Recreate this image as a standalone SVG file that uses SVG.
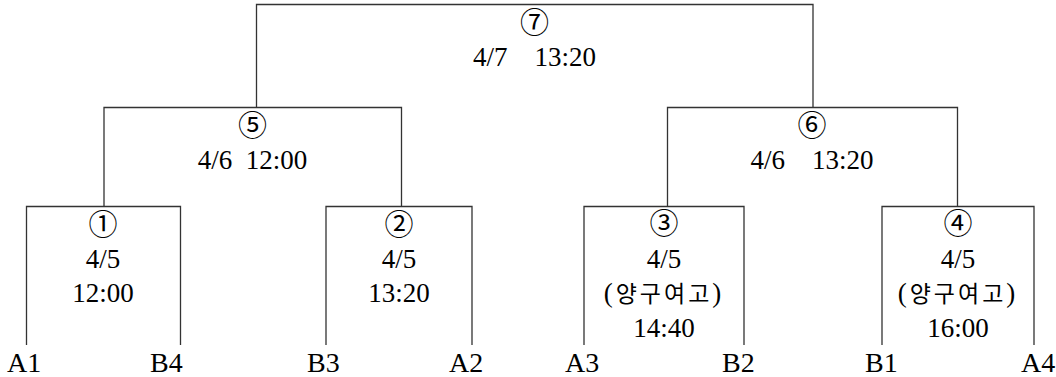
<svg xmlns="http://www.w3.org/2000/svg" width="1056" height="377" viewBox="0 0 1056 377">
<style>
  .ln { fill: none; stroke: #333; stroke-width: 1.3; }
  text { font-family: "Liberation Serif", "Noto Sans CJK KR", serif; fill: #000; white-space: pre; }
  .c { font-family: "Noto Sans CJK KR", sans-serif; font-size: 29px; text-anchor: middle; }
  .d { font-size: 27px; text-anchor: middle; }
  .k { font-size: 27px; text-anchor: middle; letter-spacing: 3px; }
  .k tspan { font-family: "Noto Sans CJK KR", sans-serif; font-size: 23px; }
  .lb { font-size: 28px; }
</style>
<rect width="1056" height="377" fill="#fff"/>
<g id="connectors">
  <path class="ln" d="M256.5,107.5 V4.5 H813 V107.5"/>
  <path class="ln" d="M104,206.5 V107.5 H401.5 V206.5"/>
  <path class="ln" d="M667.5,206.5 V107.5 H957.5 V206.5"/>
  <path class="ln" d="M26.5,345 V206.5 H180.5 V345"/>
  <path class="ln" d="M326,345 V206.5 H472 V345"/>
  <path class="ln" d="M584,345 V206.5 H744 V345"/>
  <path class="ln" d="M882,345 V206.5 H1034 V345"/>
</g>
<g id="match7">
  <text class="c" x="534.5" y="33">⑦</text>
  <text class="d" x="534.5" y="66">4/7    13:20</text>
</g>
<g id="match5">
  <text class="c" x="252.5" y="136">⑤</text>
  <text class="d" x="252.5" y="169">4/6  12:00</text>
</g>
<g id="match6">
  <text class="c" x="812" y="136">⑥</text>
  <text class="d" x="812" y="169">4/6    13:20</text>
</g>
<g id="match1">
  <text class="c" x="103" y="235">①</text>
  <text class="d" x="103" y="268">4/5</text>
  <text class="d" x="103" y="302">12:00</text>
</g>
<g id="match2">
  <text class="c" x="399" y="235">②</text>
  <text class="d" x="399" y="268">4/5</text>
  <text class="d" x="399" y="302">13:20</text>
</g>
<g id="match3">
  <text class="c" x="664" y="234">③</text>
  <text class="d" x="664" y="268">4/5</text>
  <text class="k" x="664" y="302">(<tspan>양구여고</tspan>)</text>
  <text class="d" x="664" y="337">14:40</text>
</g>
<g id="match4">
  <text class="c" x="958" y="234">④</text>
  <text class="d" x="958" y="268">4/5</text>
  <text class="k" x="958" y="302">(<tspan>양구여고</tspan>)</text>
  <text class="d" x="958" y="337">16:00</text>
</g>
<g id="teams">
  <text class="lb" x="7" y="372">A1</text>
  <text class="lb" x="150" y="372">B4</text>
  <text class="lb" x="307" y="372">B3</text>
  <text class="lb" x="449" y="372">A2</text>
  <text class="lb" x="565" y="372">A3</text>
  <text class="lb" x="722" y="372">B2</text>
  <text class="lb" x="865" y="372">B1</text>
  <text class="lb" x="1021" y="372">A4</text>
</g>
</svg>
